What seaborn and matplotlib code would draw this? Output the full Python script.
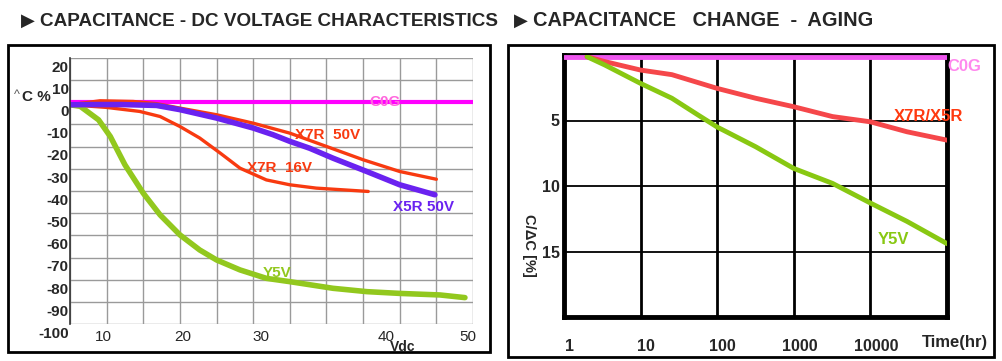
import pandas as pd
import numpy as np
import seaborn as sns
import matplotlib.pyplot as plt
import matplotlib.transforms as mtransforms
from matplotlib.patches import Rectangle

# ---- left chart: capacitance vs DC voltage (x in grid units, 5 per column) ----
c0g_v = [5, 60]
c0g_c = [0, 0]
x5r50_v = [5, 8, 12, 16.8, 20, 25, 30, 32.7, 35, 37.7, 40.9, 45.5, 50, 54.8]
x5r50_c = [-1.1, -1.0, -1.0, -1.4, -3.3, -7.1, -11.6, -14.6, -17.6, -20.7, -25.2, -31.2, -37.2, -41.7]
x7r50_v = [5, 9.1, 13.6, 16.8, 20, 25, 30, 35, 40, 45, 50, 55]
x7r50_c = [-1.1, 0.7, 0.4, -0.6, -2.6, -5.6, -9.4, -13.9, -19.9, -25.9, -31.2, -34.7]
x7r16_v = [5, 10, 14.5, 17.3, 20, 22.7, 25.5, 28.2, 31.8, 35, 38.6, 45.7]
x7r16_c = [-1.1, -2.3, -4.1, -6.4, -10.9, -16.1, -22.9, -29.7, -35, -37.2, -38.7, -40.2]
y5v_v = [5, 6.4, 8.9, 10.5, 12.5, 15, 17.3, 20, 22.7, 25, 28.2, 31.8, 35, 40.9, 45.5, 50, 55.5, 58.9]
y5v_c = [-1.1, -1.8, -7.9, -15.4, -28.2, -41, -50.8, -59.8, -66.6, -71.1, -75.6, -79.4, -80.9,
         -83.9, -85.4, -86.2, -86.9, -88.1]
left_ytick_labels = ['20', '10', '0', '-10', '-20', '-30', '-40', '-50', '-60', '-70', '-80', '-90', '-100']
left_xtick_labels = ['10', '20', '30', '40', '50']
left_xtick_pos = [9.6, 20.4, 31.1, 48.1, 59.3]

# ---- right chart: aging ----
c0g_h = [1, 100000]
c0g_d = [0.15, 0.15]
x7r_h = [2, 3.4, 10, 25.6, 100, 317, 1000, 3200, 10000, 30000, 100000]
x7r_d = [0.13, 0.5, 1.15, 1.5, 2.55, 3.3, 3.95, 4.7, 5.1, 5.86, 6.5]
y5v_h = [2, 3.4, 10, 25.6, 57, 100, 317, 1000, 3200, 10000, 30000, 100000]
y5v_d = [0.13, 0.76, 2.17, 3.3, 4.6, 5.5, 7.0, 8.66, 9.8, 11.3, 12.7, 14.4]
right_xtick_labels = ['1', '10', '100', '1000', '10000']

sns.set_style('white')
plt.rcParams['font.family'] = ['Liberation Sans', 'DejaVu Sans']

fig = plt.figure(figsize=(10.03, 3.61), dpi=100)
W, H = 1003, 361


def fx(px):
    return px / W


def fy(py):
    return 1 - py / H


# outer frames
fig.patches.append(Rectangle((fx(8), fy(352)), fx(490) - fx(8), fy(45) - fy(352),
                             transform=fig.transFigure, fill=False, lw=2, ec='black'))
fig.patches.append(Rectangle((fx(508), fy(357)), fx(994) - fx(508), fy(45) - fy(357),
                             transform=fig.transFigure, fill=False, lw=2, ec='black'))

# titles
tri = ['DejaVu Sans']
fig.text(fx(21), fy(21), '\u25B6', family=tri, fontsize=13, va='center', ha='left')
fig.text(fx(40), fy(21), 'CAPACITANCE - DC VOLTAGE CHARACTERISTICS', fontsize=13.6,
         fontweight='bold', va='center', ha='left')
fig.text(fx(514), fy(21), '\u25B6', family=tri, fontsize=13, va='center', ha='left')
fig.text(fx(533), fy(21), 'CAPACITANCE   CHANGE  -  AGING', fontsize=14.4,
         fontweight='bold', va='center', ha='left')

# ===== left chart =====
ax1 = fig.add_axes([fx(70), fy(324), fx(473) - fx(70), fy(58) - fy(324)])
left = pd.concat([
    pd.DataFrame({'v': c0g_v, 'c': c0g_c, 's': 'C0G'}),
    pd.DataFrame({'v': x7r50_v, 'c': x7r50_c, 's': 'X7R 50V'}),
    pd.DataFrame({'v': x7r16_v, 'c': x7r16_c, 's': 'X7R 16V'}),
    pd.DataFrame({'v': y5v_v, 'c': y5v_c, 's': 'Y5V'}),
    pd.DataFrame({'v': x5r50_v, 'c': x5r50_c, 's': 'X5R 50V'}),
])
left_pal = {'C0G': '#ff00ff', 'X7R 50V': '#f83a10', 'X7R 16V': '#f83a10',
            'Y5V': '#92c81e', 'X5R 50V': '#6a22f0'}
left_lw = {'C0G': 3, 'X7R 50V': 2.4, 'X7R 16V': 2.4, 'Y5V': 4, 'X5R 50V': 4}
for name, grp in left.groupby('s', sort=False):
    sns.lineplot(data=grp, x='v', y='c', ax=ax1, color=left_pal[name], lw=left_lw[name],
                 estimator=None, sort=False, legend=False)

ax1.set_xlim(5, 60)
ax1.set_ylim(-100, 20)
ax1.set_xticks(np.arange(5, 61, 5))
ax1.set_xticklabels([])
ax1.set_xticks(left_xtick_pos, minor=True)
ax1.set_xticklabels(left_xtick_labels, minor=True, fontsize=11)
ax1.set_yticks(np.arange(20, -101, -10))
ax1.set_yticklabels(left_ytick_labels, fontsize=11, fontweight='bold')
ax1.tick_params(axis='both', which='both', length=0)
ax1.tick_params(axis='x', which='minor', pad=4)
ax1.tick_params(axis='y', pad=1)
offset = mtransforms.ScaledTranslation(0, -6 / 72, fig.dpi_scale_trans)
for lab in ax1.get_yticklabels():
    lab.set_transform(lab.get_transform() + offset)
ax1.grid(True, which='major', color='#9a9a9a', lw=1)
for s in ['top', 'right', 'bottom']:
    ax1.spines[s].set_visible(False)
ax1.spines['left'].set_color('#333333')
ax1.spines['left'].set_linewidth(1.2)
ax1.set_xlabel('')
ax1.set_ylabel('')

ax1.text(48, 0.3, 'C0G', color='#ff66dd', fontsize=11, fontweight='bold', ha='center', va='center')
ax1.text(40.2, -14.6, 'X7R  50V', color='#f83a10', fontsize=11, fontweight='bold', ha='center', va='center')
ax1.text(33.6, -29.7, 'X7R  16V', color='#f83a10', fontsize=11, fontweight='bold', ha='center', va='center')
ax1.text(53.2, -47, 'X5R 50V', color='#6a22f0', fontsize=11, fontweight='bold', ha='center', va='center')
ax1.text(33.2, -77.1, 'Y5V', color='#92c81e', fontsize=11, fontweight='bold', ha='center', va='center')

fig.text(fx(14), fy(95), '^', fontsize=9, color='#555555', va='center', ha='left')
fig.text(fx(22), fy(97), 'C %', fontsize=11, fontweight='bold', va='center', ha='left')
fig.text(fx(403), fy(347), 'Vdc', fontsize=10, fontweight='bold', va='center', ha='center')

# ===== right chart =====
ax2 = fig.add_axes([fx(564), fy(317), fx(947) - fx(564), fy(55) - fy(317)])
right = pd.concat([
    pd.DataFrame({'h': c0g_h, 'd': c0g_d, 's': 'C0G'}),
    pd.DataFrame({'h': x7r_h, 'd': x7r_d, 's': 'X7R/X5R'}),
    pd.DataFrame({'h': y5v_h, 'd': y5v_d, 's': 'Y5V'}),
])
right_pal = {'C0G': '#ee55ee', 'X7R/X5R': '#f5474a', 'Y5V': '#88c812'}
for name, grp in right.groupby('s', sort=False):
    sns.lineplot(data=grp, x='h', y='d', ax=ax2, color=right_pal[name], lw=3.5,
                 estimator=None, sort=False, legend=False, zorder=3)

ax2.set_xscale('log')
ax2.set_xlim(1, 100000)
ax2.set_ylim(20, 0)
ax2.set_xticks([1, 10, 100, 1000, 10000])
ax2.set_xticklabels(right_xtick_labels, fontsize=11.5, fontweight='bold')
ax2.xaxis.set_minor_locator(plt.NullLocator())
ax2.set_yticks([5, 10, 15])
ax2.set_yticklabels(['5', '10', '15'], fontsize=11.5, fontweight='bold')
ax2.tick_params(axis='both', length=0)
ax2.tick_params(axis='x', pad=16)
ax2.tick_params(axis='y', pad=3)
xoff = mtransforms.ScaledTranslation(4 / 72, 0, fig.dpi_scale_trans)
for lab in ax2.get_xticklabels():
    lab.set_transform(lab.get_transform() + xoff)
ax2.grid(True, axis='y', color='black', lw=1.3)
ax2.grid(True, axis='x', color='black', lw=2)
for s in ax2.spines.values():
    s.set_color('black')
    s.set_linewidth(3.5)
ax2.set_xlabel('')
ax2.set_ylabel('')

ax2.text(1.7e5, 0.9, 'C0G', color='#ff88ee', fontsize=12, fontweight='bold', ha='center',
         va='center', clip_on=False)
ax2.text(5.7e4, 4.7, 'X7R/X5R', color='#ff3a10', fontsize=12, fontweight='bold', ha='center',
         va='center', clip_on=False)
ax2.text(2e4, 14.1, 'Y5V', color='#88c812', fontsize=12, fontweight='bold', ha='center', va='center')
ax2.text(-0.092, 0.275, 'C/\u0394C [%]', transform=ax2.transAxes, rotation=270, fontsize=10.5,
         fontweight='bold', ha='center', va='center')
fig.text(fx(955), fy(343), 'Time(hr)', fontsize=12, fontweight='bold', va='center', ha='center')

fig.savefig('out.png', dpi=100)
